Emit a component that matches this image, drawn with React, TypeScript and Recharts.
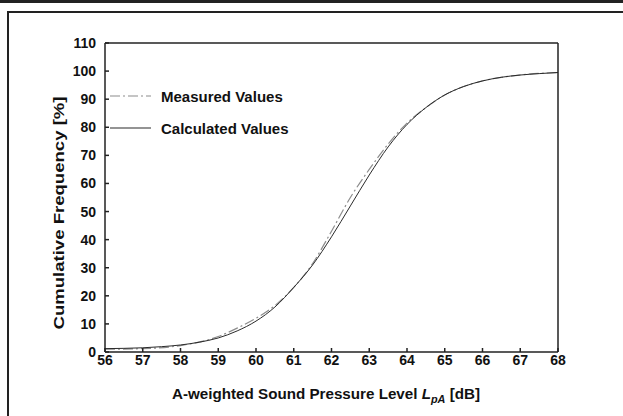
import { CartesianGrid, Legend, Line, LineChart, XAxis, YAxis } from 'recharts';

// Sound level (dB) against cumulative frequency (%)
const calcLevel = [56, 56.5, 57, 57.5, 58, 58.5, 59, 59.5, 60, 60.5, 61, 61.5, 62, 62.5, 63, 63.5, 64, 64.5, 65, 65.5, 66, 66.5, 67, 67.5, 68];
const calcFreq = [1.2, 1.3, 1.5, 1.9, 2.5, 3.5, 5, 7.5, 11, 16, 23, 31, 41, 52, 63, 73, 81, 87, 91.5, 94.5, 96.5, 97.8, 98.6, 99.1, 99.5];

const measLevel = [56, 57, 58, 59, 59.5, 60, 60.5, 61, 61.5, 62, 62.5, 63, 63.5, 64, 64.5, 65, 65.5, 66, 67, 68];
const measFreq = [1.0, 1.2, 2.3, 5.5, 8.5, 12, 16.5, 23, 31.5, 43, 55, 65, 74, 81.5, 87, 91.5, 94.5, 96.5, 98.6, 99.5];

const xTicks = [56, 57, 58, 59, 60, 61, 62, 63, 64, 65, 66, 67, 68];
const yTicks = [0, 10, 20, 30, 40, 50, 60, 70, 80, 90, 100, 110];

const calculated = calcLevel.map((x, i) => ({ x, y: calcFreq[i] }));
const measured = measLevel.map((x, i) => ({ x, y: measFreq[i] }));

const FONT = '"Liberation Sans", Arial, sans-serif';
const AXIS = '#222';

const seriesStyle: Record<string, { stroke: string; dash?: string }> = {
  'Measured Values': { stroke: '#8c8c8c', dash: '10 3 2 3' },
  'Calculated Values': { stroke: '#2a2a2a' },
};

function LegendBox() {
  return (
    <div style={{ fontFamily: FONT, fontWeight: 'bold', fontSize: 15, color: '#111' }}>
      {Object.keys(seriesStyle).map((name) => (
        <div key={name} style={{ display: 'flex', alignItems: 'center', height: 32 }}>
          <svg width={48} height={10} style={{ marginRight: 9 }}>
            <line x1={6} x2={47} y1={5} y2={5} stroke={seriesStyle[name].stroke} strokeWidth={1.2} strokeDasharray={seriesStyle[name].dash} />
          </svg>
          <span>{name}</span>
        </div>
      ))}
    </div>
  );
}

function XTitle() {
  return (
    <text x={172} y={399} textLength={308} lengthAdjust="spacingAndGlyphs" fontFamily={FONT} fontWeight="bold" fontSize={14} fill="#111">
      A-weighted Sound Pressure Level{' '}
      <tspan fontStyle="italic">L</tspan>
      <tspan fontStyle="italic" fontSize={10} dy={4}>pA</tspan>
      <tspan dy={-4}> [dB]</tspan>
    </text>
  );
}

function YTitle() {
  return (
    <text x={64} y={213} transform="rotate(-90 64 213)" textAnchor="middle" textLength={233} lengthAdjust="spacingAndGlyphs" fontFamily={FONT} fontWeight="bold" fontSize={15} fill="#111">
      Cumulative Frequency [%]
    </text>
  );
}

export default function App() {
  const tickStyle = { fontFamily: FONT, fontWeight: 'bold' as const, fontSize: 14, fill: '#111' };
  return (
    <div style={{ position: 'absolute', left: 0, top: 0, width: 623, height: 416, background: '#fff' }}>
      {/* page frame */}
      <div style={{ position: 'absolute', left: 0, top: 0, width: 623, height: 3, background: '#222' }} />
      <div style={{ position: 'absolute', left: 7, top: 11, width: 620, height: 410, borderTop: '2px solid #222', borderLeft: '2px solid #222' }} />
      <LineChart
        width={623}
        height={416}
        margin={{ top: 42, right: 64, bottom: 0, left: 0 }}
        style={{ position: 'absolute', left: 0, top: 0 }}
      >
        <CartesianGrid stroke="none" fill="#fff" />
        <XAxis
          xAxisId="b"
          dataKey="x"
          type="number"
          domain={[56, 68]}
          ticks={xTicks}
          height={64}
          stroke={AXIS}
          strokeWidth={1.5}
          tickSize={-4}
          tickMargin={7}
          tick={tickStyle}
          label={<XTitle />}
          allowDataOverflow
        />
        <XAxis
          xAxisId="t"
          orientation="top"
          type="number"
          domain={[56, 68]}
          ticks={xTicks}
          height={1}
          stroke={AXIS}
          strokeWidth={1.5}
          tickSize={-4}
          tick={false}
        />
        <YAxis
          yAxisId="l"
          type="number"
          domain={[0, 110]}
          ticks={yTicks}
          width={105}
          stroke={AXIS}
          strokeWidth={1.5}
          tickSize={-4}
          tickMargin={13}
          tick={tickStyle}
          label={<YTitle />}
          allowDataOverflow
        />
        <YAxis
          yAxisId="r"
          orientation="right"
          type="number"
          domain={[0, 110]}
          ticks={yTicks}
          width={1}
          stroke={AXIS}
          strokeWidth={1.5}
          tickSize={-4}
          tick={false}
        />
        <Legend
          layout="vertical"
          align="center"
          verticalAlign="middle"
          wrapperStyle={{ left: 104, top: 80, width: 240, height: 64 }}
          content={<LegendBox />}
        />
        <Line
          name="Measured Values"
          data={measured}
          dataKey="y"
          xAxisId="b"
          yAxisId="l"
          type="monotone"
          stroke={seriesStyle['Measured Values'].stroke}
          strokeWidth={1.2}
          strokeDasharray={seriesStyle['Measured Values'].dash}
          dot={false}
          isAnimationActive={false}
        />
        <Line
          name="Calculated Values"
          data={calculated}
          dataKey="y"
          xAxisId="b"
          yAxisId="l"
          type="monotone"
          stroke={seriesStyle['Calculated Values'].stroke}
          strokeWidth={1}
          dot={false}
          isAnimationActive={false}
        />
      </LineChart>
    </div>
  );
}
